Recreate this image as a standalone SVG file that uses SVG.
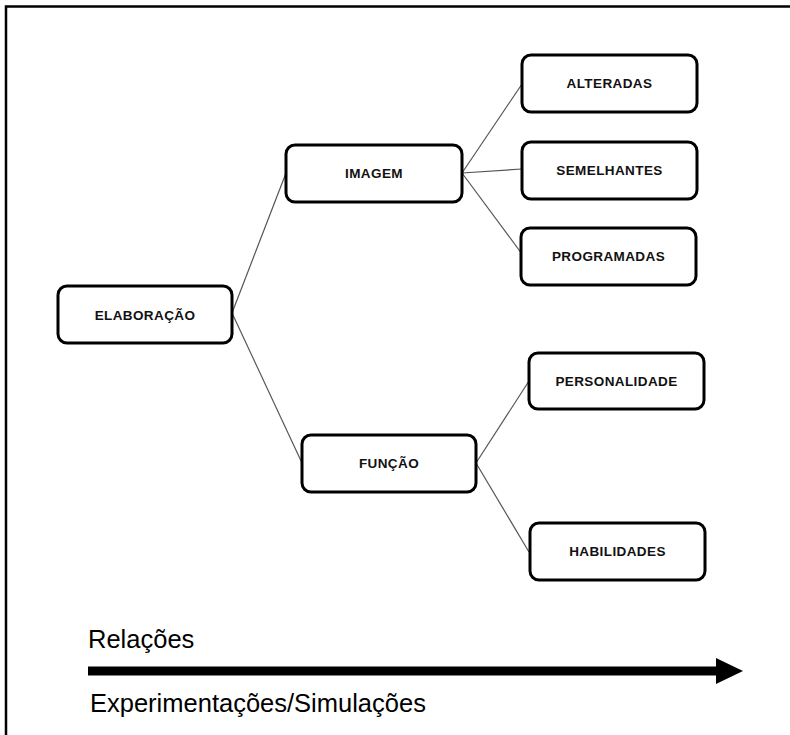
<svg xmlns="http://www.w3.org/2000/svg" width="790" height="735" viewBox="0 0 790 735">
  <defs>
    <style>
      .box { fill: #ffffff; stroke: #000000; stroke-width: 3; }
      .lbl { font-family: "Liberation Sans", Arial, sans-serif; font-weight: bold; font-size: 13.5px; fill: #111111; text-anchor: middle; letter-spacing: 0.4px; }
      .link { stroke: #555555; stroke-width: 1.2; fill: none; }
      .caption { font-family: "Liberation Sans", Arial, sans-serif; font-size: 25.5px; fill: #000000; }
    </style>
  </defs>

  <rect width="790" height="735" fill="#ffffff"/>
  <!-- frame -->
  <path d="M6,735 V6.5 H790" fill="none" stroke="#000000" stroke-width="2.5"/>

  <!-- connectors -->
  <g id="connectors">
    <line class="link" x1="232" y1="313" x2="286" y2="173"/>
    <line class="link" x1="232" y1="313" x2="302" y2="463"/>
    <line class="link" x1="462" y1="173" x2="522" y2="84"/>
    <line class="link" x1="462" y1="173" x2="522" y2="169"/>
    <line class="link" x1="462" y1="173" x2="522" y2="254"/>
    <line class="link" x1="476" y1="463" x2="529" y2="381"/>
    <line class="link" x1="476" y1="463" x2="529" y2="552"/>
  </g>

  <g id="elaboracao">
    <rect class="box" x="58" y="286" width="174" height="57" rx="9"/>
    <text class="lbl" x="145" y="319.5">ELABORAÇÃO</text>
  </g>
  <g id="imagem">
    <rect class="box" x="286" y="145" width="176" height="57" rx="9"/>
    <text class="lbl" x="374" y="178">IMAGEM</text>
  </g>
  <g id="funcao">
    <rect class="box" x="302" y="435" width="174" height="57" rx="9"/>
    <text class="lbl" x="389" y="468">FUNÇÃO</text>
  </g>
  <g id="alteradas">
    <rect class="box" x="522" y="55" width="175" height="57" rx="9"/>
    <text class="lbl" x="609.5" y="88">ALTERADAS</text>
  </g>
  <g id="semelhantes">
    <rect class="box" x="522" y="142" width="175" height="57" rx="9"/>
    <text class="lbl" x="609.5" y="175">SEMELHANTES</text>
  </g>
  <g id="programadas">
    <rect class="box" x="521" y="228" width="175" height="57" rx="9"/>
    <text class="lbl" x="608.5" y="261">PROGRAMADAS</text>
  </g>
  <g id="personalidade">
    <rect class="box" x="529" y="353" width="175" height="56" rx="9"/>
    <text class="lbl" x="616.5" y="386">PERSONALIDADE</text>
  </g>
  <g id="habilidades">
    <rect class="box" x="530" y="523" width="175" height="57" rx="9"/>
    <text class="lbl" x="617.5" y="556">HABILIDADES</text>
  </g>

  <!-- axis -->
  <g id="axis">
    <rect x="88" y="666.5" width="630" height="9" fill="#000000"/>
    <polygon points="716,658 743,671 716,684" fill="#000000"/>
    <text class="caption" x="88" y="648">Relações</text>
    <text class="caption" x="90" y="712">Experimentações/Simulações</text>
  </g>
</svg>
